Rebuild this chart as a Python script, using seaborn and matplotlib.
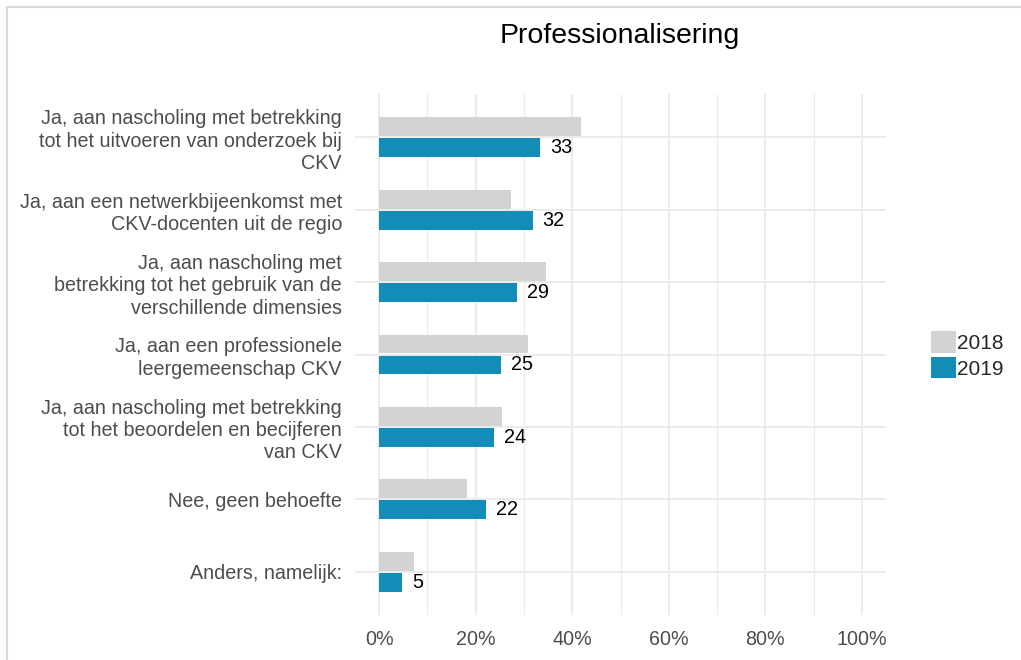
import matplotlib
matplotlib.use("Agg")
import matplotlib.pyplot as plt
import seaborn as sns
import pandas as pd
from matplotlib.ticker import FixedLocator, MultipleLocator, FuncFormatter
from matplotlib.patches import Patch
from matplotlib.lines import Line2D

categories = [
    "Ja, aan nascholing met betrekking\ntot het uitvoeren van onderzoek bij\nCKV",
    "Ja, aan een netwerkbijeenkomst met\nCKV-docenten uit de regio",
    "Ja, aan nascholing met\nbetrekking tot het gebruik van de\nverschillende dimensies",
    "Ja, aan een professionele\nleergemeenschap CKV",
    "Ja, aan nascholing met betrekking\ntot het beoordelen en becijferen\nvan CKV",
    "Nee, geen behoefte",
    "Anders, namelijk:",
]
years = ["2018", "2019"]
values_2018 = [41.8, 27.3, 34.6, 30.9, 25.5, 18.1, 7.3]
values_2019 = [33.3, 31.8, 28.6, 25.3, 23.8, 22.2, 4.7]
x_ticks = [0, 20, 40, 60, 80, 100]
title = "Professionalisering"
colors = {"2018": "#d3d3d3", "2019": "#118db8"}

df = pd.DataFrame({
    "category": categories * 2,
    "year": ["2018"] * len(categories) + ["2019"] * len(categories),
    "value": values_2018 + values_2019,
})

sns.set_style("white")
plt.rcParams["font.family"] = ["Liberation Sans", "DejaVu Sans"]

W, H = 1021, 660
fig = plt.figure(figsize=(W / 100, H / 100), dpi=100)
ax = fig.add_axes([355 / W, 1 - 615 / H, (886 - 355) / W, (615 - 94) / H])

sns.barplot(data=df, y="category", x="value", hue="year", order=categories,
            hue_order=years, palette=colors, orient="h", width=0.58, gap=0.1,
            saturation=1, linewidth=0, ax=ax, legend=False)

ax.set_xlim(-5, 105)
ax.set_ylim(6.6, -0.6)
ax.xaxis.set_major_locator(FixedLocator(x_ticks))
ax.xaxis.set_minor_locator(MultipleLocator(10))
ax.xaxis.set_major_formatter(FuncFormatter(lambda v, p: f"{int(round(v))}%"))
ax.set_axisbelow(True)
ax.grid(which="major", axis="both", color="#ebebeb", lw=1.4)
ax.grid(which="minor", axis="x", color="#ebebeb", lw=0.8)
ax.tick_params(which="both", length=0)
ax.tick_params(axis="y", pad=9.4, labelsize=14.2, labelcolor="#4d4d4d")
ax.tick_params(axis="x", pad=10.5, labelsize=14.2, labelcolor="#4d4d4d")
for lbl in ax.get_yticklabels():
    lbl.set_linespacing(1.22)
for s in ax.spines.values():
    s.set_visible(False)
ax.set_xlabel("")
ax.set_ylabel("")

ax.bar_label(ax.containers[1], labels=[str(round(v)) for v in values_2019],
             padding=7.2, fontsize=14.2, color="black")

handles = [Patch(facecolor=colors[y], edgecolor="none", label=y) for y in years]
fig.legend(handles=handles, loc="center left", bbox_to_anchor=(931 / W, 1 - 355 / H),
           frameon=False, fontsize=15, handlelength=1.2, handleheight=1.2,
           handletextpad=0.06, labelspacing=0.2, borderpad=0, borderaxespad=0)

fig.text(620 / W, 1 - 36 / H, title, ha="center", va="center", fontsize=20.5, color="black")

fig.add_artist(Line2D([7 / W, 1], [1 - 7 / H, 1 - 7 / H], transform=fig.transFigure,
                      color="#d9d9d9", lw=1.5))
fig.add_artist(Line2D([7 / W, 7 / W], [0, 1 - 7 / H], transform=fig.transFigure,
                      color="#d9d9d9", lw=1.5))

fig.savefig("out.png", dpi=100)
